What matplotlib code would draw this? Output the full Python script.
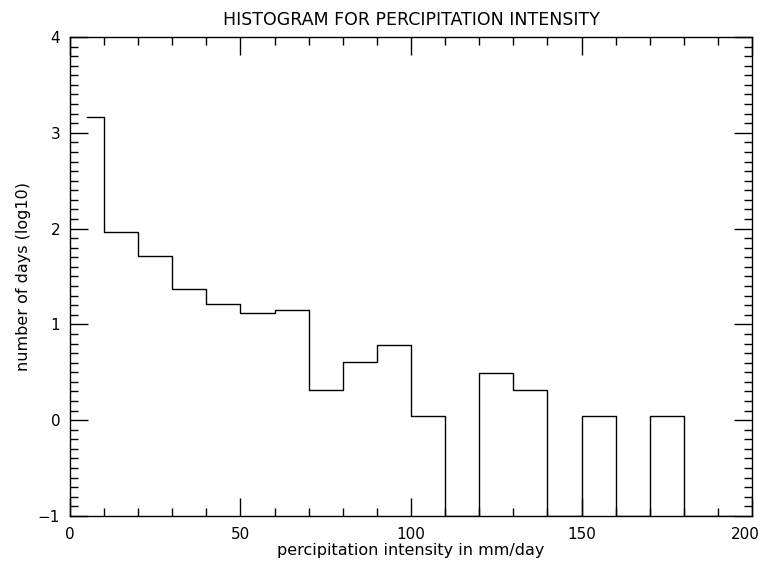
import numpy as np
import matplotlib.pyplot as plt
from matplotlib.ticker import MultipleLocator
from matplotlib.transforms import ScaledTranslation

# bin centres (mm/day) and log10 of day counts
bin_centres = np.arange(5, 200, 10)
log_days = [3.17, 1.96, 1.715, 1.365, 1.21, 1.12, 1.15, 0.32, 0.61, 0.785,
            0.04, -1.0, 0.49, 0.32, -1.0, 0.04, -1.0, 0.04, -1.0, -1.0]

title = 'HISTOGRAM FOR PERCIPITATION INTENSITY'
xlabel = 'percipitation intensity in mm/day'
ylabel = 'number of days (log10)'


def main():
    plt.rcParams['font.family'] = ['DejaVu Sans']
    fig = plt.figure(figsize=(7.63, 5.67), dpi=100)
    ax = fig.add_axes([0.0917, 0.090, 0.8939, 0.8447])

    ax.step(bin_centres, log_days, where='mid', color='black', lw=1.0)

    ax.set_xlim(0, 200)
    ax.set_ylim(-1, 4)
    ax.xaxis.set_major_locator(MultipleLocator(50))
    ax.xaxis.set_minor_locator(MultipleLocator(10))
    ax.yaxis.set_major_locator(MultipleLocator(1))
    ax.yaxis.set_minor_locator(MultipleLocator(0.1))
    ax.tick_params(which='both', direction='in', top=True, right=True,
                   width=1.0, color='black', labelsize=11, pad=8)
    ax.tick_params(which='major', length=13)
    ax.tick_params(which='minor', length=6)
    ax.tick_params(axis='y', which='major', pad=7)
    for s in ax.spines.values():
        s.set_linewidth(1.0)

    ax.set_title(title, fontsize=12.5, pad=9, color='black')
    ax.set_xlabel(xlabel, fontsize=11.5, labelpad=1)
    ax.set_ylabel(ylabel, fontsize=11.5, labelpad=5)

    # keep the last x label ("200") inside the figure
    fig.canvas.draw()
    for tick in ax.xaxis.get_major_ticks():
        if np.isclose(tick.get_loc(), 200):
            lab = tick.label1
            lab.set_transform(lab.get_transform()
                              + ScaledTranslation(-5 / 72, 0,
                                                  fig.dpi_scale_trans))

    fig.savefig('out.png', dpi=100)


if __name__ == "__main__":
    main()
